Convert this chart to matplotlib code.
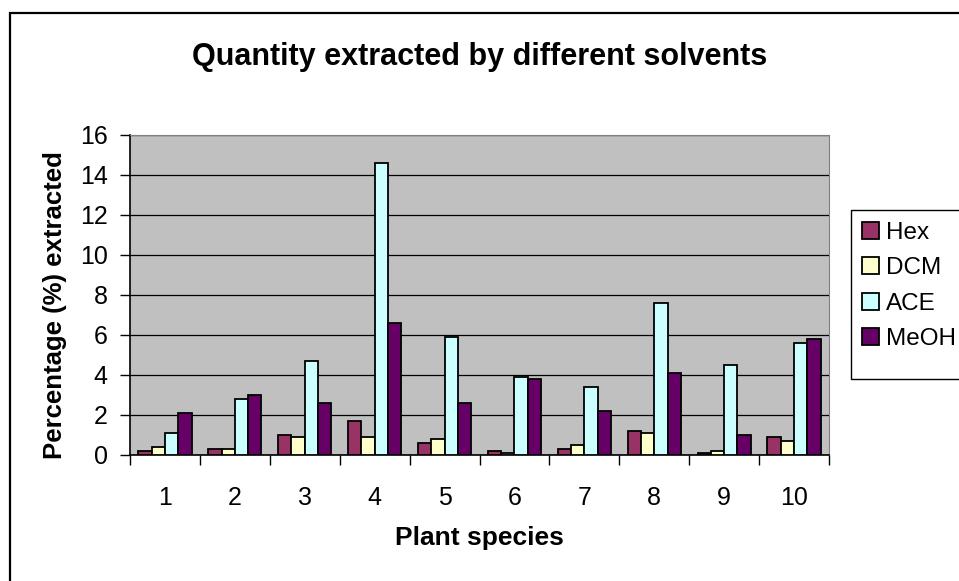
import matplotlib.pyplot as plt
import numpy as np
from matplotlib.patches import Rectangle

# data
species = ['1', '2', '3', '4', '5', '6', '7', '8', '9', '10']
hex_vals = [0.2, 0.3, 1.0, 1.7, 0.6, 0.2, 0.3, 1.2, 0.1, 0.9]
dcm_vals = [0.4, 0.3, 0.9, 0.9, 0.8, 0.1, 0.5, 1.1, 0.2, 0.7]
ace_vals = [1.1, 2.8, 4.7, 14.6, 5.9, 3.9, 3.4, 7.6, 4.5, 5.6]
meoh_vals = [2.1, 3.0, 2.6, 6.6, 2.6, 3.8, 2.2, 4.1, 1.0, 5.8]

series = [('Hex', hex_vals, '#993366'),
          ('DCM', dcm_vals, '#FFFFCC'),
          ('ACE', ace_vals, '#CCFFFF'),
          ('MeOH', meoh_vals, '#660066')]

plt.rcParams['font.family'] = ['Liberation Sans', 'DejaVu Sans']

W, H = 959, 581
fig = plt.figure(figsize=(W / 100, H / 100), dpi=100)

# outer chart border (runs off the image on the right and bottom)
fig.patches.append(Rectangle((10 / W, -0.05), 1.1, 1 - 13 / H + 0.05,
                             transform=fig.transFigure, fill=False,
                             edgecolor='black', linewidth=1.6, zorder=-1))

# legend box, drawn on its own so it can be taller than the entries
fig.patches.append(Rectangle((851 / W, 1 - 379 / H), 0.2, 169 / H,
                             transform=fig.transFigure, facecolor='white',
                             edgecolor='black', linewidth=1.0, zorder=-1))

ax = fig.add_axes([130 / W, 1 - 455 / H, (829 - 130) / W, (455 - 135) / H])
ax.set_facecolor('#C0C0C0')

index = np.arange(len(species))
bar_width = 0.19
for i, (name, vals, col) in enumerate(series):
    ax.bar(index + (i - 1.5) * bar_width, vals, bar_width, color=col,
           edgecolor='black', linewidth=1.3, label=name, zorder=3)

ax.set_xlim(-0.5, len(species) - 0.5)
ax.set_ylim(0, 16)
ax.set_yticks(np.arange(0, 17, 2))
ax.yaxis.grid(True, color='black', linewidth=0.9, zorder=1)
ax.set_axisbelow(True)

ax.set_xticks(index)
ax.set_xticklabels(species)
ax.set_xticks(np.arange(-0.5, len(species), 1), minor=True)
ax.tick_params(axis='x', which='major', length=0, pad=22, labelsize=18)
ax.tick_params(axis='x', which='minor', length=7, width=1, direction='out')
ax.tick_params(axis='y', length=7, width=1, direction='out', pad=9, labelsize=18)

for s in ['top', 'right']:
    ax.spines[s].set_color('#808080')
for s in ['left', 'bottom']:
    ax.spines[s].set_color('black')
    ax.spines[s].set_linewidth(1.2)

fig.text(480 / W, 1 - 57 / H, 'Quantity extracted by different solvents',
         ha='center', va='center', fontsize=22, fontweight='bold')
fig.text(479 / W, 1 - 538 / H, 'Plant species', ha='center', va='center',
         fontsize=19, fontweight='bold')
fig.text(55 / W, 1 - 305 / H, 'Percentage (%) extracted', ha='center',
         va='center', rotation=90, fontsize=18.5, fontweight='bold')

leg = ax.legend(loc='upper left', bbox_to_anchor=(851 / W, 1 - 211 / H),
                bbox_transform=fig.transFigure, fontsize=17.5, frameon=False,
                handlelength=0.7, handleheight=0.7, handletextpad=0.3,
                labelspacing=0.55, borderpad=0.45, borderaxespad=0)

plt.savefig('out.png', dpi=100)
